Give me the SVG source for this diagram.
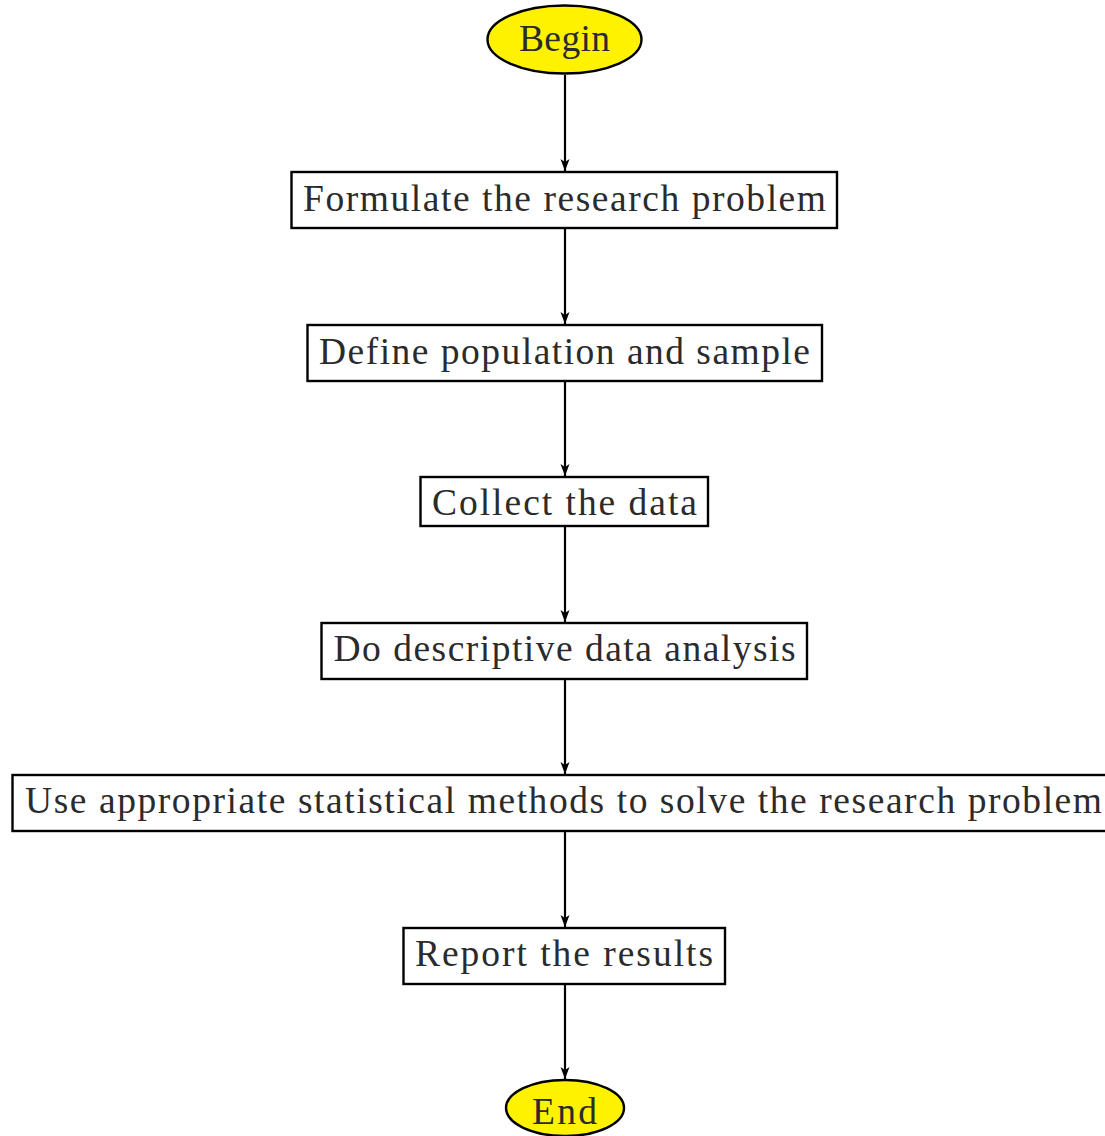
<svg xmlns="http://www.w3.org/2000/svg" width="1105" height="1136" viewBox="0 0 1105 1136">
<defs>
<style>
.t{font-family:"Liberation Serif","DejaVu Serif",serif;font-size:37.5px;fill:#2b2b2b;text-anchor:middle}
.b{fill:#fff;stroke:#000;stroke-width:2.4}
.e{fill:#fff200;stroke:#000;stroke-width:2.4}
.c{stroke:#000;stroke-width:2.2;fill:none;marker-end:url(#ah)}
</style>
<marker id="ah" markerWidth="14" markerHeight="14" refX="12" refY="7" orient="auto" markerUnits="userSpaceOnUse">
<path d="M0,2.5 L12,7 L0,11.5 L3,7 Z" fill="#000"/>
</marker>
</defs>
<rect width="1105" height="1136" fill="#fff"/>
<g id="connectors">
<line class="c" x1="565" y1="75" x2="565" y2="171"/>
<line class="c" x1="565" y1="228" x2="565" y2="324"/>
<line class="c" x1="565" y1="381" x2="565" y2="476"/>
<line class="c" x1="565" y1="526" x2="565" y2="622"/>
<line class="c" x1="565" y1="679" x2="565" y2="774"/>
<line class="c" x1="565" y1="831" x2="565" y2="927"/>
<line class="c" x1="565" y1="984" x2="565" y2="1079"/>
</g>
<g id="begin">
<ellipse class="e" cx="564.5" cy="39.5" rx="77" ry="34"/>
<text class="t" x="564.5" y="51" textLength="91">Begin</text>
</g>
<g id="formulate">
<rect class="b" x="291.5" y="172" width="545.5" height="56"/>
<text class="t" x="564.5" y="211" textLength="523">Formulate the research problem</text>
</g>
<g id="define">
<rect class="b" x="307.5" y="325" width="514.5" height="56"/>
<text class="t" x="564.5" y="364" textLength="491">Define population and sample</text>
</g>
<g id="collect">
<rect class="b" x="420.5" y="477" width="287.5" height="49"/>
<text class="t" x="564.5" y="515" textLength="265">Collect the data</text>
</g>
<g id="describe">
<rect class="b" x="321.5" y="623" width="485.5" height="56"/>
<text class="t" x="564.5" y="661" textLength="462">Do descriptive data analysis</text>
</g>
<g id="methods">
<rect class="b" x="12.5" y="775" width="1105" height="56"/>
<text class="t" x="563.5" y="813" textLength="1077">Use appropriate statistical methods to solve the research problem</text>
</g>
<g id="report">
<rect class="b" x="403.5" y="928" width="321.5" height="56"/>
<text class="t" x="564" y="966" textLength="298">Report the results</text>
</g>
<g id="end">
<ellipse class="e" cx="565" cy="1108" rx="59" ry="28"/>
<text class="t" x="564.5" y="1124" textLength="65">End</text>
</g>
</svg>
